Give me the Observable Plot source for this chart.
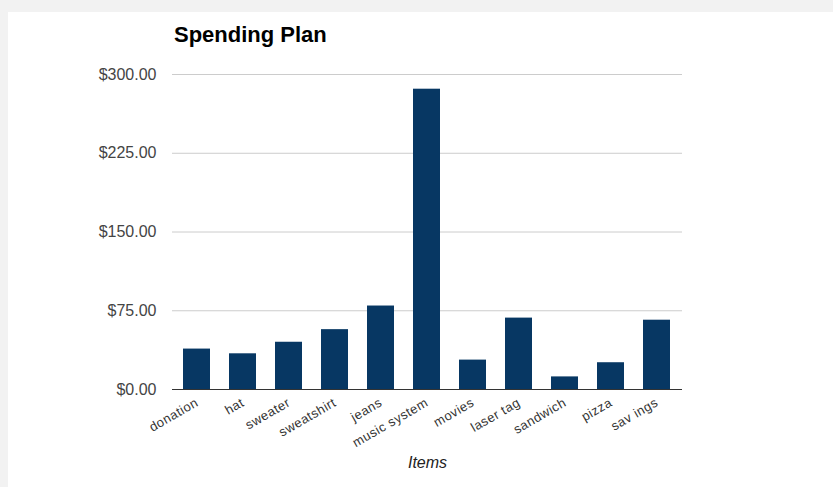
<!DOCTYPE html>
<html>
<head>
<meta charset="utf-8">
<script src="https://cdn.jsdelivr.net/npm/d3@7"></script>
<script src="https://cdn.jsdelivr.net/npm/@observablehq/plot@0.6"></script>
<style>
  html, body { margin: 0; padding: 0; background: #f2f2f2; }
  body { width: 833px; height: 487px; overflow: hidden; }
  #panel { position: absolute; left: 8px; top: 12px; width: 825px; height: 475px; background: #fff; }
  #title { height: 44px; box-sizing: border-box; padding-top: 12px; padding-left: 166px;
           font-family: "Liberation Sans", Arial, sans-serif; font-weight: bold; font-size: 22px; line-height: 22px; color: #000; }
  #chart svg { display: block; }
  #chart .xticks text { letter-spacing: 0.5px; }
</style>
</head>
<body>
<div id="panel">
  <div id="title">Spending Plan</div>
  <div id="chart"></div>
</div>
<script>
const items = ["donation", "hat", "sweater", "sweatshirt", "jeans", "music system", "movies", "laser tag", "sandwich", "pizza", "sav ings"];
const amounts = [38.5, 34, 45, 57, 79.5, 286, 28, 68, 12, 25.5, 66];
const yTicks = [0, 75, 150, 225, 300];
const xTitle = "Items";

const data = items.map((item, i) => ({item, amount: amounts[i]}));

const chart = Plot.plot({
  width: 825,
  height: 431,
  marginTop: 18,
  marginBottom: 98,
  marginLeft: 165,
  marginRight: 152,
  style: {fontFamily: "'Liberation Sans', Arial, sans-serif", background: "transparent"},
  x: {domain: items, paddingInner: 0.41, paddingOuter: 0.2, label: null},
  y: {domain: [0, 300], label: null},
  marks: [
    Plot.ruleY(yTicks.filter(d => d > 0), {stroke: "#cccccc", strokeWidth: 1, insetLeft: -1, insetRight: -1}),
    Plot.barY(data, {x: "item", y: "amount", fill: "#073763"}),
    Plot.ruleY([0], {stroke: "#333333", strokeWidth: 1.2, insetLeft: -1, insetRight: -1}),
    Plot.axisY({ticks: yTicks, tickFormat: d3.format("$.2f"), tickSize: 0, tickPadding: 17, fontSize: 16, color: "#444", label: null}),
    Plot.axisX({className: "xticks", tickSize: 0, tickPadding: 12, tickRotate: -30, fontSize: 13, color: "#333", label: null}),
    Plot.text([xTitle], {frameAnchor: "bottom", dy: 78, fontSize: 16, fontStyle: "italic", fill: "#222"})
  ]
});
document.getElementById("chart").appendChild(chart);
</script>
</body>
</html>
